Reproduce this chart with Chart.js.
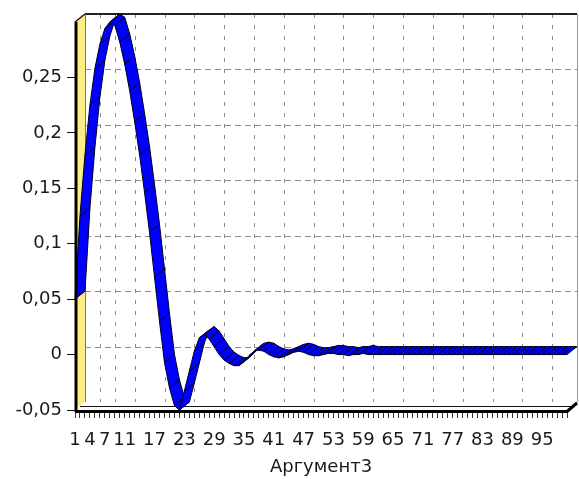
<!DOCTYPE html>
<html><head><meta charset="utf-8">
<script src="https://cdn.jsdelivr.net/npm/chart.js@4.4.0/dist/chart.umd.min.js"></script>
<style>html,body{margin:0;padding:0;background:#fff;}#wrap{width:579px;height:479px;position:relative;}</style>
</head><body><div id="wrap"><canvas id="c" width="579" height="479"></canvas></div>
<script>
const categories = ['1','2','3','4','5','6','7','8','9','10','11','12','13','14','15','16','17','18','19','20',
'21','22','23','24','25','26','27','28','29','30','31','32','33','34','35','36','37','38','39','40',
'41','42','43','44','45','46','47','48','49','50','51','52','53','54','55','56','57','58','59','60',
'61','62','63','64','65','66','67','68','69','70','71','72','73','74','75','76','77','78','79','80',
'81','82','83','84','85','86','87','88','89','90','91','92','93','94','95','96','97','98','99','100'];

const seriesValues = [
 0.050, 0.125, 0.180, 0.225, 0.258, 0.280, 0.294, 0.300, 0.297, 0.282,
 0.262, 0.238, 0.210, 0.180, 0.146, 0.110, 0.070, 0.030, -0.007, -0.030,
 -0.046, -0.050, -0.033, -0.015, 0.003, 0.015, 0.018, 0.014, 0.007, 0.000,
 -0.005, -0.008, -0.010, -0.010, -0.006, -0.001, 0.003, 0.004, 0.003, 0.000,
 -0.002, -0.003, -0.002, 0.000, 0.002, 0.003, 0.002, 0.000, -0.001, -0.001,
 0.000, 0.001, 0.001, 0.000, 0.000, -0.001, 0.000, 0.000, 0.001, 0.000,
 0.000, 0.000, 0.000, 0.000, 0.000, 0.000, 0.000, 0.000, 0.000, 0.000,
 0.000, 0.000, 0.000, 0.000, 0.000, 0.000, 0.000, 0.000, 0.000, 0.000,
 0.000, 0.000, 0.000, 0.000, 0.000, 0.000, 0.000, 0.000, 0.000, 0.000,
 0.000, 0.000, 0.000, 0.000, 0.000, 0.000, 0.000, 0.000, 0.000, 0.000];

const xTickLabels = ['1','4','7','11','17','23','29','35','41','47','53','59','65','71','77','83','89','95'];
const yTickValues = [-0.05, 0, 0.05, 0.1, 0.15, 0.2, 0.25];
const yTickLabels = ['-0,05', '0', '0,05', '0,1', '0,15', '0,2', '0,25'];
const xAxisTitle = 'Аргумент3';

const DX = 10, DY = -8;
const FONT = 'DejaVu Sans';

const frame3d = {
  id: 'frame3d',
  beforeDraw(chart) {
    const {ctx, chartArea: a, scales} = chart;
    const x = scales.x, y = scales.y;
    ctx.save();
    ctx.fillStyle = '#fff';
    ctx.fillRect(0, 0, chart.width, chart.height);
    ctx.strokeStyle = '#8c8c8c';
    ctx.lineWidth = 1;
    ctx.setLineDash([6, 4]);
    yTickValues.forEach(v => {
      const py = Math.round(y.getPixelForValue(v) + DY) + 0.5;
      ctx.beginPath(); ctx.moveTo(a.left + DX, py); ctx.lineTo(a.right + DX, py); ctx.stroke();
    });
    ctx.setLineDash([4, 7]);
    xTickLabels.forEach(l => {
      const i = categories.indexOf(l);
      const px = Math.round(x.getPixelForValue(i) + DX) + 0.5;
      ctx.beginPath(); ctx.moveTo(px, a.top + DY); ctx.lineTo(px, a.bottom + DY); ctx.stroke();
    });
    ctx.setLineDash([]);
    ctx.strokeStyle = '#9a9a9a';
    ctx.beginPath(); ctx.moveTo(a.right + DX + 0.5, a.top + DY); ctx.lineTo(a.right + DX + 0.5, a.bottom + DY); ctx.stroke();
    ctx.strokeStyle = '#222';
    ctx.lineWidth = 2;
    ctx.beginPath(); ctx.moveTo(a.left + DX, a.top + DY); ctx.lineTo(a.right + DX, a.top + DY); ctx.stroke();
    ctx.fillStyle = '#fbec84';
    ctx.beginPath();
    ctx.moveTo(a.left, a.top); ctx.lineTo(a.left + DX, a.top + DY);
    ctx.lineTo(a.left + DX, a.bottom + DY); ctx.lineTo(a.left, a.bottom);
    ctx.closePath(); ctx.fill();
    ctx.strokeStyle = '#777'; ctx.lineWidth = 1;
    ctx.beginPath(); ctx.moveTo(a.left + DX + 0.5, a.top + DY); ctx.lineTo(a.left + DX + 0.5, a.bottom + DY); ctx.stroke();
    ctx.strokeStyle = '#111'; ctx.lineWidth = 1.5;
    ctx.beginPath(); ctx.moveTo(a.left, a.top); ctx.lineTo(a.left + DX, a.top + DY); ctx.stroke();
    ctx.fillStyle = '#fff';
    ctx.beginPath();
    ctx.moveTo(a.left, a.bottom + 1); ctx.lineTo(a.right, a.bottom + 1);
    ctx.lineTo(a.right + DX, a.bottom + DY); ctx.lineTo(a.left + DX, a.bottom + DY);
    ctx.closePath(); ctx.fill();
    ctx.strokeStyle = '#111'; ctx.lineWidth = 1;
    ctx.beginPath();
    ctx.moveTo(a.left + DX / 2, a.bottom - 3.5); ctx.lineTo(a.right + DX / 2, a.bottom - 3.5);
    ctx.lineTo(a.right + DX, a.bottom + DY);
    ctx.stroke();
    ctx.restore();
  },
  afterDatasetsDraw(chart) {
    const {ctx, chartArea: a} = chart;
    const pts = chart.getDatasetMeta(0).data;
    ctx.save();
    ctx.lineJoin = 'round';
    for (let i = 0; i < pts.length - 1; i++) {
      const p = pts[i], q = pts[i + 1];
      ctx.beginPath();
      ctx.moveTo(p.x, p.y); ctx.lineTo(q.x, q.y);
      ctx.lineTo(q.x + DX, q.y + DY); ctx.lineTo(p.x + DX, p.y + DY);
      ctx.closePath();
      ctx.fillStyle = '#0000ff'; ctx.fill();
      ctx.strokeStyle = '#000022'; ctx.lineWidth = 1; ctx.stroke();
    }
    ctx.strokeStyle = '#000';
    ctx.lineWidth = 3;
    ctx.beginPath(); ctx.moveTo(a.left + 1, a.top); ctx.lineTo(a.left + 1, a.bottom + 2); ctx.stroke();
    ctx.beginPath(); ctx.moveTo(a.left, a.bottom + 1.5); ctx.lineTo(a.right, a.bottom + 1.5);
    ctx.lineTo(a.right + DX, a.bottom + DY + 1); ctx.stroke();
    ctx.restore();
  }
};

new Chart(document.getElementById('c'), {
  type: 'line',
  data: {
    labels: categories,
    datasets: [{
      data: seriesValues,
      showLine: false,
      pointRadius: 0,
      borderColor: '#0000ff',
      backgroundColor: '#0000ff'
    }]
  },
  options: {
    responsive: false,
    animation: false,
    layout: { padding: { left: 0, right: 11, top: 22, bottom: 0 } },
    plugins: { legend: { display: false }, tooltip: { enabled: false } },
    scales: {
      x: {
        type: 'category',
        offset: false,
        border: { display: false },
        grid: { drawOnChartArea: false, drawTicks: true, tickLength: 8, color: '#333' },
        ticks: {
          autoSkip: false, maxRotation: 0, minRotation: 0, padding: 12,
          color: '#1a1a1a', font: { family: FONT, size: 18 },
          callback: function (val, idx) {
            const l = categories[idx];
            return xTickLabels.includes(l) ? l : '';
          }
        },
        title: { display: true, text: xAxisTitle, color: '#1a1a1a', font: { family: FONT, size: 18 }, padding: { top: 0, bottom: 1 } },
        afterFit: function (s) { s.height = 69; }
      },
      y: {
        min: -0.05, max: 0.3,
        border: { display: false },
        grid: { drawOnChartArea: false, drawTicks: true, tickLength: 8, color: '#111' },
        afterBuildTicks: function (s) { s.ticks = yTickValues.map(v => ({ value: v })); },
        ticks: {
          padding: 5, color: '#1a1a1a', font: { family: FONT, size: 18 },
          callback: function (val) {
            const i = yTickValues.findIndex(v => Math.abs(v - val) < 1e-9);
            return i >= 0 ? yTickLabels[i] : '';
          }
        },
        afterFit: function (s) { s.width = 75; }
      }
    }
  },
  plugins: [frame3d]
});
</script></body></html>
